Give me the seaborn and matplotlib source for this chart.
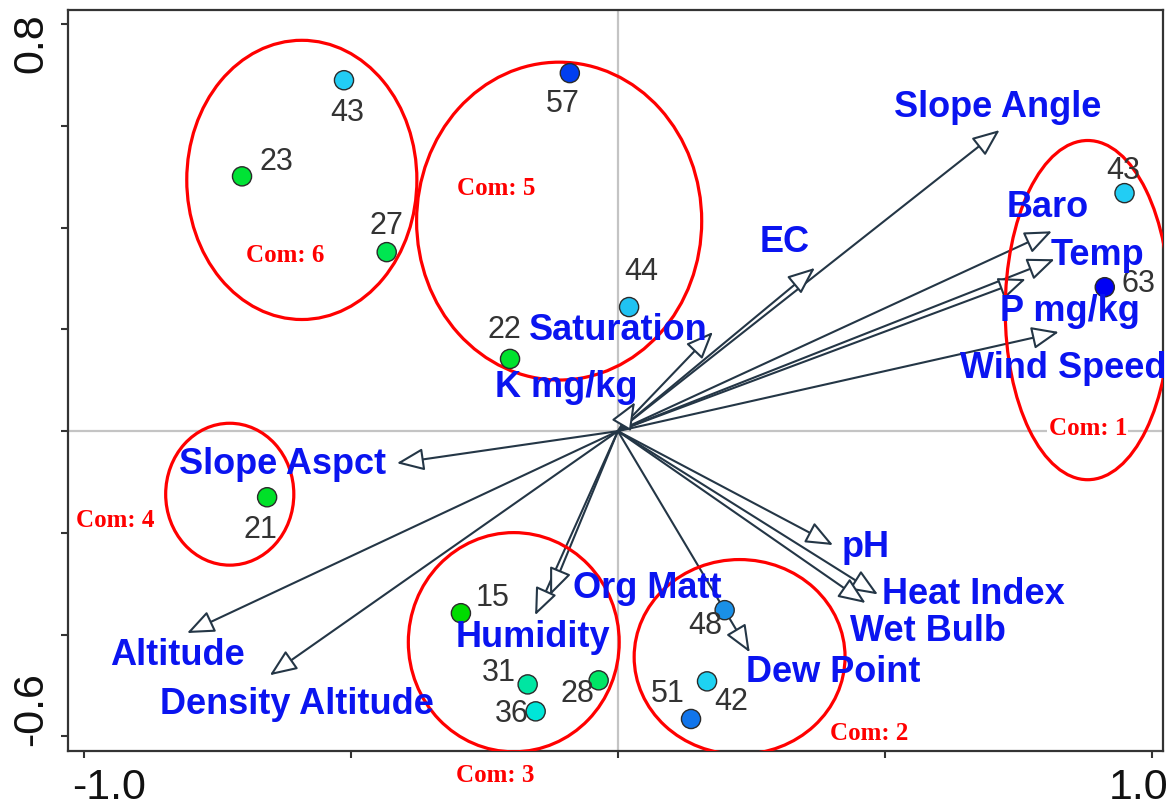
import matplotlib
matplotlib.use("Agg")
import matplotlib.pyplot as plt
from matplotlib.patches import Ellipse
from matplotlib.colors import LinearSegmentedColormap
import seaborn as sns
import pandas as pd

# site scores (label = site value, also used for the colour ramp)
site_ids = [43, 23, 27, 57, 44, 22, 43, 63, 21, 15, 31, 36, 28, 48, 42, 51]
site_x = [-0.513, -0.704, -0.433, -0.090, 0.021, -0.202, 0.949, 0.912,
          -0.657, -0.294, -0.169, -0.154, -0.036, 0.200, 0.167, 0.137]
site_y = [0.690, 0.501, 0.352, 0.704, 0.244, 0.142, 0.468, 0.283,
          -0.130, -0.358, -0.498, -0.551, -0.490, -0.352, -0.492, -0.566]

# environmental vectors
env_vars = ["Slope Angle", "EC", "Baro", "Temp", "P mg/kg", "Wind Speed",
            "Saturation", "K mg/kg", "Slope Aspct", "Altitude",
            "Density Altitude", "Humidity", "Org Matt", "Dew Point", "pH",
            "Heat Index", "Wet Bulb"]
env_x = [0.715, 0.369, 0.813, 0.818, 0.764, 0.826, 0.178, 0.032, -0.414,
         -0.807, -0.652, -0.155, -0.127, 0.247, 0.403, 0.487, 0.464]
env_y = [0.592, 0.321, 0.393, 0.338, 0.299, 0.195, 0.195, 0.057, -0.063,
         -0.397, -0.480, -0.362, -0.323, -0.435, -0.224, -0.321, -0.338]

# community groupings (ellipse centre / size)
com_names = ["Com: 1", "Com: 2", "Com: 3", "Com: 4", "Com: 5", "Com: 6"]
com_cx = [0.880, 0.228, -0.195, -0.727, -0.110, -0.592]
com_cy = [0.238, -0.444, -0.415, -0.124, 0.413, 0.494]
com_w = [0.309, 0.395, 0.395, 0.240, 0.534, 0.431]
com_h = [0.667, 0.383, 0.431, 0.279, 0.625, 0.549]

x_ticks = [-1.0, -0.5, 0.0, 0.5, 1.0]
y_ticks = [-0.6, -0.4, -0.2, 0.0, 0.2, 0.4, 0.6, 0.8]

sites = pd.DataFrame({"x": site_x, "y": site_y, "site": site_ids})

sns.set_theme(style="white")
plt.rcParams["font.family"] = ["Liberation Sans", "DejaVu Sans"]

fig = plt.figure(figsize=(11.72, 8.10), dpi=100)
ax = fig.add_axes([0.058, 0.0728, 0.9343, 0.9148])

ax.axhline(0, color="#c4c4c4", lw=1.6, zorder=0)
ax.axvline(0, color="#c4c4c4", lw=1.6, zorder=0)

# arrows
for name, ex, ey in zip(env_vars, env_x, env_y):
    ax.annotate("", xy=(ex, ey), xytext=(0, 0),
                arrowprops=dict(arrowstyle="-|>,head_length=0.8,head_width=0.33",
                                mutation_scale=21, fc="white", ec="#243646",
                                lw=1.5, shrinkA=0, shrinkB=0),
                zorder=2)

env_label_xy = [(0.712, 0.637), (0.313, 0.370), (0.805, 0.439), (0.899, 0.346),
                (0.846, 0.236), (0.835, 0.124), (0.0, 0.197), (-0.097, 0.085),
                (-0.629, -0.065), (-0.824, -0.442), (-0.601, -0.537),
                (-0.159, -0.405), (0.056, -0.309), (0.404, -0.474),
                (0.464, -0.228), (0.665, -0.321), (0.581, -0.393)]
for name, (lx, ly) in zip(env_vars, env_label_xy):
    ax.text(lx, ly, name, color="#0a14f0", fontsize=26, fontweight="bold",
            ha="center", va="center", zorder=6)

# site points
ramp = LinearSegmentedColormap.from_list(
    "site_ramp",
    [(0.0, "#00dc00"), (0.25, "#00e650"), (0.33, "#00e6a0"),
     (0.44, "#00e6d8"), (0.58, "#22d0f5"), (0.69, "#1a90e8"),
     (0.875, "#0040f0"), (1.0, "#0000f5")])
sns.scatterplot(data=sites, x="x", y="y", hue="site", palette=ramp,
                hue_norm=(15, 63), s=190, edgecolor="#2a2a2a", linewidth=1.0,
                legend=False, ax=ax, zorder=4)

site_label_xy = [(-0.506, 0.625), (-0.640, 0.529), (-0.433, 0.403),
                 (-0.103, 0.643), (0.043, 0.313), (-0.212, 0.199),
                 (0.946, 0.512), (0.976, 0.289), (-0.670, -0.195),
                 (-0.234, -0.328), (-0.223, -0.476), (-0.199, -0.557),
                 (-0.075, -0.517), (0.163, -0.383), (0.212, -0.533),
                 (0.094, -0.517)]
for sid, (lx, ly) in zip(site_ids, site_label_xy):
    ax.text(lx, ly, str(sid), color="#333333", fontsize=22,
            ha="center", va="center", zorder=5)

# community ellipses
com_label_xy = [(0.880, 0.006), (0.470, -0.594), (-0.230, -0.677),
                (-0.942, -0.175), (-0.228, 0.478), (-0.624, 0.346)]
for name, cx, cy, w, h, (lx, ly) in zip(com_names, com_cx, com_cy, com_w,
                                        com_h, com_label_xy):
    ax.add_patch(Ellipse((cx, cy), w, h, fill=False, ec="#ff0000", lw=2.3,
                         zorder=3))
    ax.text(lx, ly, name, color="#ff0000", fontsize=18, fontweight="bold",
            family=["Liberation Serif", "DejaVu Serif"], ha="center",
            va="center", zorder=6, clip_on=False,
            bbox=dict(fc="white", ec="none", pad=1) if name == "Com: 1" else None)

ax.set_xlim(-1.030, 1.021)
ax.set_ylim(-0.629, 0.828)
ax.set_xlabel("")
ax.set_ylabel("")

# only the end ticks carry labels, pulled inward like the original export
ax.set_xticks(x_ticks)
ax.set_xticklabels([])
ax.set_yticks(y_ticks)
ax.set_yticklabels([])
ax.tick_params(axis="both", which="both", direction="out", length=5,
               width=1.5, color="#333333",
               left=True, bottom=True, top=False, right=False)

tick_font = dict(fontsize=31, color="#111111", clip_on=False)
ax.text(-0.953, -0.702, "-1.0", ha="center", va="center", **tick_font)
ax.text(0.975, -0.702, "1.0", ha="center", va="center", **tick_font)
ax.text(-1.099, 0.763, "0.8", rotation=90, ha="center", va="center", **tick_font)
ax.text(-1.099, -0.547, "-0.6", rotation=90, ha="center", va="center", **tick_font)

for sp in ax.spines.values():
    sp.set_color("#333333")
    sp.set_linewidth(1.6)

fig.savefig("out.png", dpi=100)
